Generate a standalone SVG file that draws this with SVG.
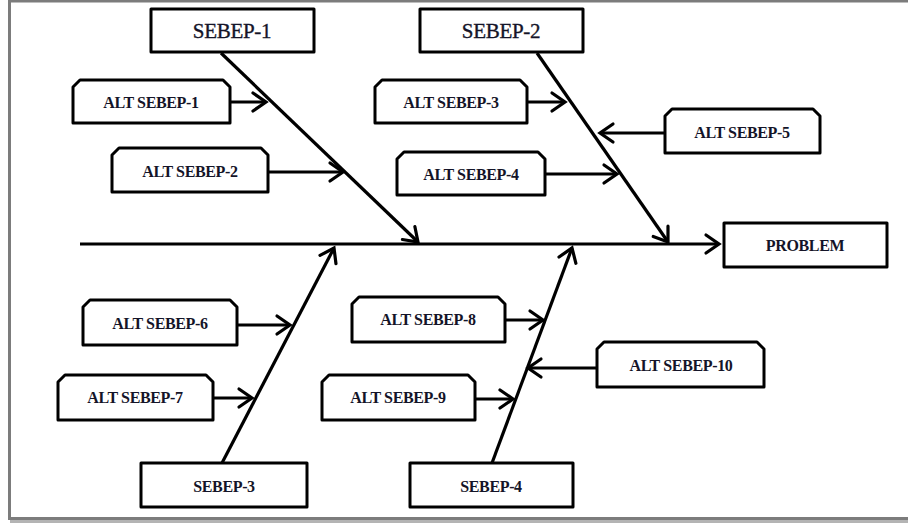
<svg xmlns="http://www.w3.org/2000/svg" width="908" height="525" viewBox="0 0 908 525">
  <defs>
    <style>
      .frame { fill: #ffffff; stroke: #7c7c7c; stroke-width: 3; }
      .box { fill: #ffffff; stroke: #000000; stroke-width: 3; stroke-linejoin: round; }
      .bone { fill: none; stroke: #000000; stroke-width: 3.2; marker-end: url(#head); }
      .main { font-family: "Liberation Serif", "Times New Roman", serif; font-size: 21px; fill: #141428; stroke: #141428; stroke-width: 0.35; text-anchor: middle; letter-spacing: -0.3px; }
      .label { font-family: "Liberation Serif", "Times New Roman", serif; font-size: 16px; font-weight: bold; fill: #141428; text-anchor: middle; letter-spacing: -0.35px; }
    </style>
    <marker id="head" markerUnits="userSpaceOnUse" viewBox="-16 -12 19 24" refX="0" refY="0" markerWidth="19" markerHeight="24" orient="auto">
      <path d="M -13 -9 L 0 0 L -13 9" fill="none" stroke="#000000" stroke-width="3.2" stroke-linecap="round" stroke-linejoin="miter"/>
    </marker>
  </defs>

  <!-- page frame -->
  <rect x="0" y="0" width="908" height="525" fill="#ffffff"/>
  <line x1="10" y1="521.5" x2="908" y2="521.5" stroke="#b4b4b4" stroke-width="3"/>
  <rect class="frame" x="9.5" y="1" width="910" height="517.5"/>

  <!-- connectors -->
  <g id="connectors">
    <!-- spine -->
    <line class="bone" x1="80" y1="244" x2="719" y2="244"/>
    <!-- main causes -->
    <line class="bone" x1="221" y1="53" x2="418" y2="242"/>
    <line class="bone" x1="537" y1="53" x2="668" y2="242"/>
    <line class="bone" x1="222" y1="463" x2="334" y2="248"/>
    <line class="bone" x1="492" y1="463" x2="572" y2="248"/>
    <!-- sub causes -->
    <line class="bone" x1="230" y1="102" x2="266" y2="102"/>
    <line class="bone" x1="268" y1="172" x2="343" y2="172"/>
    <line class="bone" x1="527" y1="102" x2="565" y2="102"/>
    <line class="bone" x1="545" y1="174" x2="617" y2="174"/>
    <line class="bone" x1="665" y1="133" x2="600" y2="133"/>
    <line class="bone" x1="237" y1="325" x2="290" y2="325"/>
    <line class="bone" x1="213" y1="398" x2="252" y2="398"/>
    <line class="bone" x1="505" y1="320" x2="543" y2="320"/>
    <line class="bone" x1="475" y1="399" x2="513" y2="399"/>
    <line class="bone" x1="597" y1="368" x2="528" y2="368"/>
  </g>

  <!-- main cause boxes -->
  <g id="sebep-1">
    <rect class="box" x="151" y="9" width="163" height="43"/>
    <text class="main" x="232" y="38">SEBEP-1</text>
  </g>
  <g id="sebep-2">
    <rect class="box" x="420" y="9" width="163" height="43"/>
    <text class="main" x="501" y="38">SEBEP-2</text>
  </g>
  <g id="sebep-3">
    <rect class="box" x="141" y="463" width="166" height="44"/>
    <text class="label" x="224" y="492">SEBEP-3</text>
  </g>
  <g id="sebep-4">
    <rect class="box" x="410" y="463" width="163" height="44"/>
    <text class="label" x="491" y="492">SEBEP-4</text>
  </g>
  <g id="problem">
    <rect class="box" x="724" y="223" width="163" height="44"/>
    <text class="label" x="805" y="251">PROBLEM</text>
  </g>

  <!-- sub cause boxes: top corners chamfered -->
  <g id="alt-sebep-1">
    <path class="box" d="M73 123 V87 L80 80 H223 L230 87 V123 Z"/>
    <text class="label" x="151" y="108">ALT SEBEP-1</text>
  </g>
  <g id="alt-sebep-2">
    <path class="box" d="M112 192 V155 L119 148 H261 L268 155 V192 Z"/>
    <text class="label" x="190" y="177">ALT SEBEP-2</text>
  </g>
  <g id="alt-sebep-3">
    <path class="box" d="M375 123 V87 L382 80 H520 L527 87 V123 Z"/>
    <text class="label" x="451" y="108">ALT SEBEP-3</text>
  </g>
  <g id="alt-sebep-4">
    <path class="box" d="M397 195 V159 L404 152 H538 L545 159 V195 Z"/>
    <text class="label" x="471" y="180">ALT SEBEP-4</text>
  </g>
  <g id="alt-sebep-5">
    <path class="box" d="M665 153 V116 L672 109 H813 L820 116 V153 Z"/>
    <text class="label" x="742" y="138">ALT SEBEP-5</text>
  </g>
  <g id="alt-sebep-6">
    <path class="box" d="M83 345 V307 L90 300 H230 L237 307 V345 Z"/>
    <text class="label" x="160" y="329">ALT SEBEP-6</text>
  </g>
  <g id="alt-sebep-7">
    <path class="box" d="M58 420 V382 L65 375 H206 L213 382 V420 Z"/>
    <text class="label" x="135" y="403">ALT SEBEP-7</text>
  </g>
  <g id="alt-sebep-8">
    <path class="box" d="M352 342 V304 L359 297 H498 L505 304 V342 Z"/>
    <text class="label" x="428" y="325">ALT SEBEP-8</text>
  </g>
  <g id="alt-sebep-9">
    <path class="box" d="M322 420 V382 L329 375 H468 L475 382 V420 Z"/>
    <text class="label" x="398" y="403">ALT SEBEP-9</text>
  </g>
  <g id="alt-sebep-10">
    <path class="box" d="M597 387 V349 L604 342 H757 L764 349 V387 Z"/>
    <text class="label" x="681" y="371">ALT SEBEP-10</text>
  </g>
</svg>
